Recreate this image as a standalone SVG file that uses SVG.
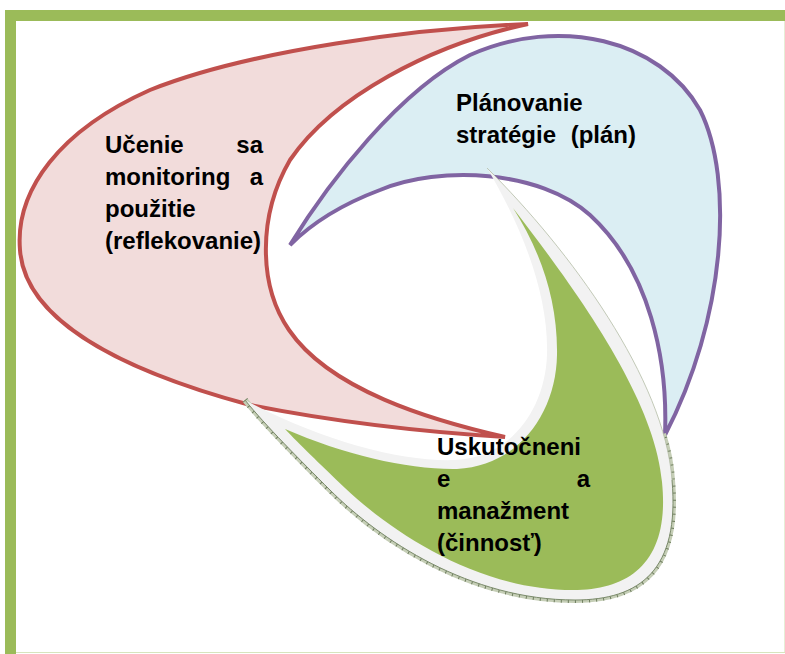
<svg xmlns="http://www.w3.org/2000/svg" width="785" height="654" viewBox="0 0 785 654">
<style>
.t{font-family:"Liberation Sans",Arial,Helvetica,sans-serif;font-weight:bold;font-size:24px;fill:#000}
.e{text-anchor:end}
.red{fill:#F2DCDB;stroke:#C0504D;stroke-width:4;stroke-linejoin:miter}
.pur{fill:#DBEEF3;stroke:#8064A2;stroke-width:4;stroke-linejoin:miter}
</style>
<rect width="785" height="654" fill="#fff"/>
<g id="frame">
<rect x="5" y="10" width="11" height="644" fill="#9BBB59"/>
<rect x="5" y="10" width="780" height="11" fill="#9BBB59"/>
<line x1="784.5" y1="21" x2="784.5" y2="653" stroke="#E6EDD6" stroke-width="1"/>
<line x1="16" y1="652.5" x2="785" y2="652.5" stroke="#D7E4BD" stroke-width="1"/>
</g>
<g id="node-ucenie">
<path class="red" d="M528,24 C420,28 250,50 150,90 C60,130 15,190 20,250 C25,320 120,370 250,405 C350,425 440,433 505,437 C430,420 330,390 289,330 C258,285 258,215 290,160 C333,97 430,45 528,24 Z"/>
<text class="t" x="105" y="153">Učenie</text><text class="t e" x="263" y="153">sa</text>
<text class="t" x="105" y="185">monitoring</text><text class="t e" x="263" y="185">a</text>
<text class="t" x="105" y="217">použitie</text>
<text class="t" x="105" y="249">(reflekovanie)</text>
</g>
<g id="node-planovanie">
<path class="pur" d="M290,245 C330,180 400,90 470,55 C560,15 660,40 700,110 C735,180 725,320 665,435 C668,360 650,270 590,215 C540,170 440,165 380,190 C340,205 310,225 290,245 Z"/>
<text class="t" x="456" y="111">Plánovanie</text>
<text class="t" x="456" y="143">stratégie</text><text class="t e" x="636" y="143">(plán)</text>
</g>
<g id="node-uskutocnenie">
<path d="M245,400 C265,425 300,460 330,490 C380,540 470,600 575,600 C640,600 680,570 672,480 C671,465 668,449 663,434" fill="none" stroke="#C5CEB6" stroke-width="6"/>
<path d="M245,400 C265,425 300,460 330,490 C380,540 470,600 575,600 C640,600 680,570 672,480 C671,465 668,449 663,434" fill="none" stroke="#6E7D5E" stroke-width="6" stroke-dasharray="1 6"/>
<path d="M487,168 C570,250 665,380 672,480 C680,570 640,600 575,600 C470,600 380,540 330,490 C300,460 265,425 245,400 C320,440 400,462 455,460 C510,458 545,410 547,355 C549,290 518,220 487,168 Z" fill="#F2F2F2" stroke="none"/>
<path d="M245,400 C265,425 300,460 330,490 C380,540 470,600 575,600 C640,600 680,570 672,480" fill="none" stroke="#7A8A6A" stroke-width="1"/>
<path d="M672,480 C665,380 570,250 487,168" fill="none" stroke="#B4BCA6" stroke-width="0.8"/>
<path d="M513,208 C580,295 655,400 662,482 C670,560 632,590 573,590 C480,590 395,535 345,488 C318,462 300,445 285,429 C345,455 410,470 457,469 C518,466 556,414 557,355 C558,300 540,250 513,208 Z" fill="#9BBB59"/>
<text class="t" x="437" y="455">Uskutočneni</text>
<text class="t" x="437" y="487">e</text><text class="t e" x="590" y="487">a</text>
<text class="t" x="437" y="519">manažment</text>
<text class="t" x="437" y="551">(činnosť)</text>
</g>
<g id="connectors"></g>
</svg>
